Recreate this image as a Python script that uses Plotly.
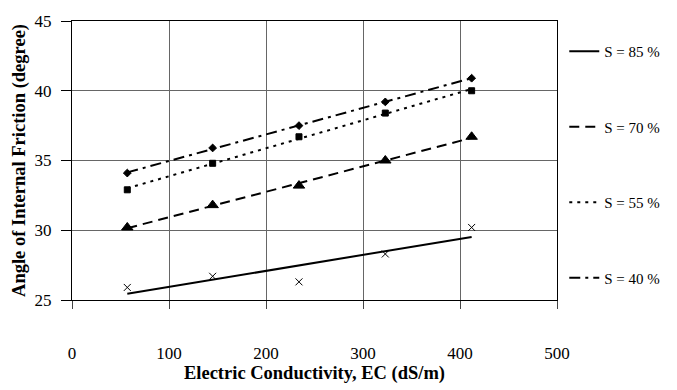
import numpy as np
import plotly.graph_objects as go

# Data
ec = [57, 145, 234, 323, 412]
s85 = [25.9, 26.7, 26.3, 28.3, 30.2]
s70 = [30.2, 31.8, 33.2, 35.0, 36.7]
s55 = [32.9, 34.8, 36.7, 38.4, 40.0]
s40 = [34.1, 35.9, 37.5, 39.2, 40.9]
series_names = ["S = 85 %", "S = 70 %", "S = 55 %", "S = 40 %"]
x_ticks = [0, 100, 200, 300, 400, 500]
y_ticks = [25, 30, 35, 40, 45]

FONT = "Liberation Serif"
series = [s85, s70, s55, s40]
symbols = ["x-thin-open", "triangle-up", "square", "diamond"]
msizes = [7, 10, 6, 6]
dashes = ["solid", "10px,6px", "3px,5px", "11px,5px,3px,5px"]

fig = go.Figure()
for i, (ys, name) in enumerate(zip(series, series_names)):
    xa = np.array(ec, dtype=float)
    ya = np.array(ys, dtype=float)
    k, b = np.polyfit(xa, ya, 1)
    xl = [xa.min(), xa.max()]
    yl = [k * v + b for v in xl]
    fig.add_trace(go.Scatter(
        x=xl, y=yl, mode="lines", name=name,
        line=dict(color="black", width=2, dash=dashes[i]),
        legendgroup=name, showlegend=True,
    ))
    fig.add_trace(go.Scatter(
        x=ec, y=ys, mode="markers", showlegend=False, legendgroup=name,
        marker=dict(symbol=symbols[i], size=msizes[i], color="black",
                    line=dict(color="black", width=1)),
    ))

fig.update_layout(
    width=677, height=390,
    margin=dict(l=72, r=120, t=15, b=85),
    paper_bgcolor="white", plot_bgcolor="white",
    font=dict(family=FONT, color="black", size=16),
    legend=dict(
        x=1.015, xanchor="left", y=0.95, yanchor="top",
        font=dict(family=FONT, size=15, color="black"),
        tracegroupgap=53, itemwidth=30,
        bgcolor="rgba(0,0,0,0)",
    ),
)
fig.update_xaxes(
    range=[0, 500], tickvals=x_ticks, ticktext=[str(v) for v in x_ticks],
    showgrid=True, gridcolor="#666666", gridwidth=1,
    showline=True, linecolor="black", linewidth=1, mirror=True,
    ticks="outside", ticklen=8, tickcolor="#444444",
    ticklabelstandoff=30, tickfont=dict(size=17),
    zeroline=False,
    title=dict(text="<b>Electric Conductivity, EC (dS/m)</b>",
               font=dict(size=18.5), standoff=2),
)
fig.update_yaxes(
    range=[25, 45], tickvals=y_ticks, ticktext=[str(v) for v in y_ticks],
    showgrid=True, gridcolor="#666666", gridwidth=1,
    showline=True, linecolor="black", linewidth=1, mirror=True,
    ticks="outside", ticklen=10, tickcolor="black",
    ticklabelstandoff=6, tickfont=dict(size=17),
    zeroline=False,
    title=dict(text="<b>Angle of Internal Friction (degree)</b>",
               font=dict(size=18.5), standoff=4),
)

fig.write_html("out.html")
